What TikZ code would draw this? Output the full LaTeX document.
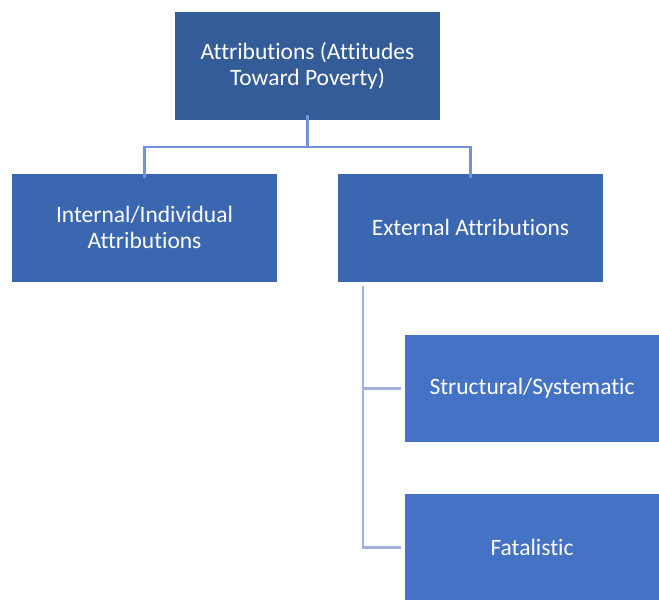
\documentclass[tikz,border=0pt]{standalone}
\usepackage{fontspec}
\setmainfont{Carlito}[RawFeature={-liga;-clig;-dlig}]
\definecolor{topc}{HTML}{335C99}
\definecolor{midc}{HTML}{3A67B0}
\definecolor{lowc}{HTML}{4472C4}
\definecolor{linea}{HTML}{7393D9}
\definecolor{lineb}{HTML}{A0B3E0}
\tikzset{
  boxbase/.style={rectangle, inner sep=0pt, text=white, align=center, font=\fontsize{23.5}{26.5}\selectfont},
  topbox/.style={boxbase, fill=topc, minimum width=265pt, minimum height=108pt},
  midbox/.style={boxbase, fill=midc, minimum width=265pt, minimum height=108pt},
  lowbox/.style={boxbase, fill=lowc, minimum width=254pt, minimum height=107pt},
  conna/.style={draw=linea, line width=2.2pt},
  connb/.style={draw=lineb, line width=2.2pt},
}
\begin{document}
\begin{tikzpicture}[x=1pt,y=-1pt]
\useasboundingbox (0,0) rectangle (659,600);
\node[topbox] (top) at (307.5,66) {Attributions (Attitudes\\Toward Poverty)};
\node[midbox] (int) at (144.5,227.5) {Internal/Individual\\Attributions};
\node[midbox] (ext) at (470.5,227.5) {External Attributions};
\node[lowbox] (str) at (532,388.5) {Structural/Systematic};
\node[lowbox] (fat) at (532,547.5) {Fatalistic};
\coordinate (j) at (307.5,147);
\draw[conna] ([yshift=5pt]top.south) -- (j);
\draw[conna] (j) -| ([yshift=-5pt]int.north);
\draw[conna] (j) -| ([yshift=-5pt]ext.north);
\coordinate (v) at (363,286);
\draw[connb] (v) |- ([xshift=-4pt]fat.west);
\draw[connb] (v |- str.west) -- ([xshift=-4pt]str.west);
\end{tikzpicture}
\end{document}
